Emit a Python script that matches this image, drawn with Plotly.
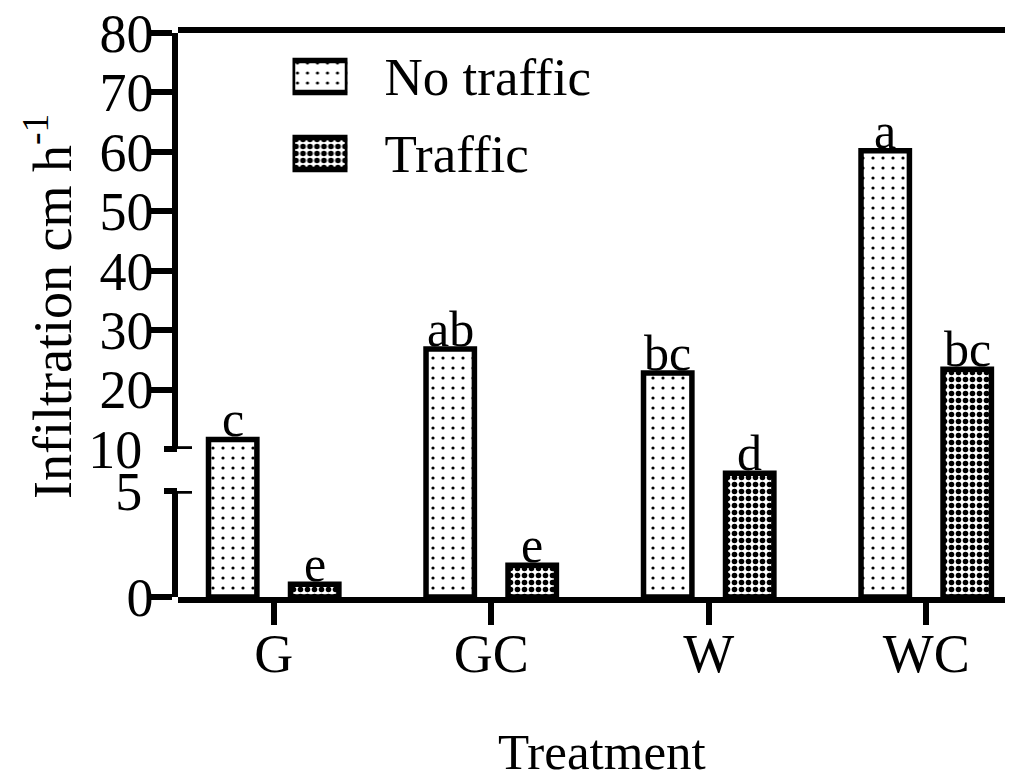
import plotly.graph_objects as go

# ---------------- data ----------------
treatments = ["G", "GC", "W", "WC"]
no_traffic = [11.6, 26.8, 22.8, 60.2]
traffic = [0.6, 1.5, 7.1, 23.4]
letters_no_traffic = ["c", "ab", "bc", "a"]
letters_traffic = ["e", "e", "d", "bc"]
lower_ticks = [0]
lower_break_tick = [5]
upper_ticks = [20, 30, 40, 50, 60, 70, 80]
upper_break_tick = [10]
legend_labels = ["No traffic", "Traffic"]
legend_swatch = [1, 1]
x_title = "Treatment"
y_title = "Infiltration cm h<sup>-1</sup>"

# ---------------- broken-axis scale ----------------
LOW_MAX, HIGH_MIN, HIGH_MAX = 5, 10, 80
F_LO, F_GAP = 0.188, 0.0745
F_HI = 1 - F_LO - F_GAP


def broken(v):
    if v <= LOW_MAX:
        return v / LOW_MAX * F_LO
    if v <= HIGH_MIN:
        return F_LO + (v - LOW_MAX) / (HIGH_MIN - LOW_MAX) * F_GAP
    return F_LO + F_GAP + (v - HIGH_MIN) / (HIGH_MAX - HIGH_MIN) * F_HI


FONT = "Liberation Serif, Times New Roman, serif"
FS_TICK = 54
FS_LEG = 53
FS_LET = 50
FS_YTITLE = 54
FS_XTITLE = 51
LW = 5.5
BARGAP = 0.246
BARGROUPGAP = 0.41

dots = dict(shape=".", size=10, solidity=0.08, fgcolor="black", bgcolor="white")
checks = dict(shape=".", size=7, solidity=0.5, fgcolor="black", bgcolor="white")

fig = go.Figure()
fig.add_bar(x=treatments, y=[broken(v) for v in no_traffic], name=legend_labels[0],
            marker=dict(color="white", line=dict(color="black", width=LW), pattern=dots),
            xaxis="x", yaxis="y", hoverinfo="skip")
fig.add_bar(x=treatments, y=[broken(v) for v in traffic], name=legend_labels[1],
            marker=dict(color="white", line=dict(color="black", width=LW), pattern=checks),
            xaxis="x", yaxis="y", hoverinfo="skip")

# empty traces so that the axis-only subplots are drawn
for ax in ["y2", "y3", "y4", "y5"]:
    fig.add_scatter(x=[], y=[], xaxis="x", yaxis=ax, showlegend=False, hoverinfo="skip")

# legend inset drawn as a tiny bar chart
fig.add_bar(y=legend_labels, x=legend_swatch, orientation="h", width=0.416,
            marker=dict(color="white", line=dict(color="black", width=LW),
                        pattern=dict(shape=[".", "."], size=[10, 7], solidity=[0.08, 0.5],
                                     fgcolor="black", bgcolor="white")),
            xaxis="x2", yaxis="y6", hoverinfo="skip")

axis_common = dict(showline=True, linecolor="black", linewidth=LW, ticks="outside",
                   tickcolor="black", tickwidth=LW, showgrid=False, zeroline=False,
                   automargin=False, ticklabeloverflow="allow",
                   tickfont=dict(size=FS_TICK, family=FONT, color="black"), fixedrange=True)

PLOT_W = 835.0
PLOT_H = 564.0
cap_x0, cap_x1 = -13 / PLOT_W, 14 / PLOT_W

offset = (1 - BARGAP) / 4
annotations = []
for i, (v, t) in enumerate(zip(no_traffic, letters_no_traffic)):
    annotations.append(dict(x=i - offset, y=broken(v), xref="x", yref="y", text=t,
                            showarrow=False, yanchor="bottom", yshift=-10,
                            font=dict(size=FS_LET, family=FONT, color="black")))
for i, (v, t) in enumerate(zip(traffic, letters_traffic)):
    annotations.append(dict(x=i + offset, y=broken(v), xref="x", yref="y", text=t,
                            showarrow=False, yanchor="bottom", yshift=-10,
                            font=dict(size=FS_LET, family=FONT, color="black")))
annotations.append(dict(x=(48 - 178) / PLOT_W, y=(597 - 307) / PLOT_H, xref="paper", yref="paper",
                        text=y_title, textangle=-90, showarrow=False, xanchor="center",
                        yanchor="middle", font=dict(size=FS_YTITLE, family=FONT, color="black")))
annotations.append(dict(x=(602 - 178) / PLOT_W, y=(597 - 752) / PLOT_H, xref="paper", yref="paper",
                        text=x_title, showarrow=False, xanchor="center", yanchor="middle",
                        font=dict(size=FS_XTITLE, family=FONT, color="black")))

# the page body has an 8px margin: plot area is placed at 178..1013 x 33..597 on screen
fig.update_layout(
    template="none",
    width=1013, height=778,
    margin=dict(l=170, r=8, t=25, b=189, pad=0, autoexpand=False),
    paper_bgcolor="white", plot_bgcolor="rgba(0,0,0,0)",
    showlegend=False, barmode="group", bargap=BARGAP, bargroupgap=BARGROUPGAP,
    font=dict(family=FONT, size=FS_TICK, color="black"),
    xaxis=dict(axis_common, type="category", range=[-0.44, 3.399], domain=[0, 1], anchor="y",
               ticklen=22, ticklabelstandoff=-18, mirror=True),
    yaxis=dict(range=[0, 1], domain=[0, 1], visible=False, fixedrange=True, automargin=False),
    yaxis2=dict(axis_common, domain=[0, F_LO], range=[0, LOW_MAX], anchor="x",
                tickvals=lower_ticks, ticklen=23, ticklabelstandoff=-15),
    yaxis3=dict(axis_common, domain=[F_LO + F_GAP, 1], range=[HIGH_MIN, HIGH_MAX], anchor="x",
                tickvals=upper_ticks, ticklen=23, ticklabelstandoff=-15),
    yaxis4=dict(axis_common, overlaying="y3", range=[HIGH_MIN, HIGH_MAX], anchor="x",
                showline=False, tickvals=upper_break_tick, ticklen=13, ticklabelstandoff=11),
    yaxis5=dict(axis_common, overlaying="y2", range=[0, LOW_MAX], anchor="x",
                showline=False, tickvals=lower_break_tick, ticklen=13, ticklabelstandoff=11),
    xaxis2=dict(domain=[(292.5 - 178) / PLOT_W, (347.5 - 178) / PLOT_W], range=[0, 1],
                anchor="y6", visible=False, fixedrange=True, automargin=False),
    yaxis6=dict(domain=[(597 - 192) / PLOT_H, (597 - 38) / PLOT_H], type="category",
                autorange="reversed", side="right", anchor="x2", showline=False, ticks="",
                showgrid=False, zeroline=False, ticklabelstandoff=36, fixedrange=True,
                automargin=False,
                tickfont=dict(size=FS_LEG, family=FONT, color="black")),
    shapes=[
        dict(type="line", xref="paper", yref="y3", x0=cap_x0, x1=cap_x1, y0=HIGH_MIN, y1=HIGH_MIN,
             line=dict(color="black", width=LW)),
        dict(type="line", xref="paper", yref="y2", x0=cap_x0, x1=cap_x1, y0=LOW_MAX, y1=LOW_MAX,
             line=dict(color="black", width=LW)),
    ],
    annotations=annotations,
)

fig.write_html("out.html")
